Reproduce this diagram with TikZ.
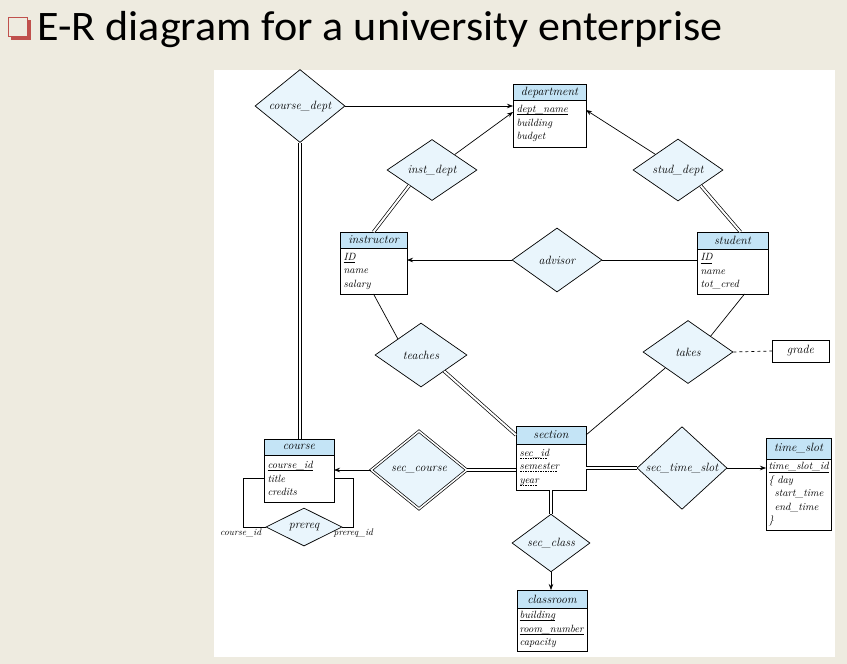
\documentclass[tikz,border=0pt]{standalone}
\usepackage{fontspec}
\usetikzlibrary{shapes.geometric,arrows.meta}
\newfontfamily\titlefont[FakeStretch=1.05]{Carlito}
\definecolor{slidebg}{HTML}{EEEBE0}
\definecolor{hdrblue}{HTML}{C4E4F6}
\definecolor{relblue}{HTML}{E9F5FC}
\definecolor{bulletred}{HTML}{C0504D}
% primary key and partial key underlines
\newcommand\keyattr[1]{\leavevmode\setbox0\hbox{#1}\rlap{\raisebox{-2.2pt}[0pt][0pt]{\vrule width \wd0 height 0.5pt depth 0pt}}#1}
\newcommand\partkey[1]{\leavevmode\setbox0\hbox{#1}\rlap{\raisebox{-2.4pt}[0pt][0pt]{\hbox to \wd0{\leaders\hbox to 2.5pt{\hss\vrule height 0.5pt depth 0pt width 1.5pt\hss}\hfill}}}#1}
\tikzset{
  ent/.style={draw, fill=hdrblue, anchor=north west, inner sep=0pt, outer sep=0pt, minimum height=17pt, font=\fontsize{12}{14}\selectfont\itshape},
  attrs/.style={draw, fill=white, anchor=north west, outer sep=0pt, inner xsep=3.5pt, inner ysep=1.5pt, align=left, font=\fontsize{10.5}{13.5}\selectfont\itshape},
  rel/.style={diamond, draw, fill=relblue, inner sep=0pt, minimum width=90pt, minimum height=63pt, font=\fontsize{12}{14}\selectfont\itshape},
  total/.style={double, double distance=2pt},
  role/.style={font=\fontsize{9.5}{11}\selectfont\itshape, inner sep=2pt},
  >={Stealth[length=6pt,width=4.5pt]}
}
\begin{document}
\begin{tikzpicture}[x=1pt, y=-1pt, line width=0.7pt]
  \useasboundingbox (0,0) rectangle (847,664);
  \fill[slidebg] (0,0) rectangle (847,664);
  \fill[white] (214,70) rectangle (835,657);
  % slide title
  \fill[bulletred] (10.5,19.5) rectangle (30.5,39.5);
  \filldraw[fill=slidebg, draw=bulletred, line width=1pt] (8.5,17.5) rectangle (27.5,36.5);
  \node[anchor=base west, inner sep=0pt, font=\titlefont\fontsize{42}{50}\selectfont] (title) at (37,40) {E-R diagram for a university enterprise};

  % entity sets
  \node[ent, minimum width=73pt, minimum height=16pt] (department) at (513,84) {department};
  \node[attrs, text width=66pt, minimum height=47pt] (department-attrs) at (department.south west) {\keyattr{dept\_name}\\ building\\ budget};
  \node[ent, minimum width=67pt, minimum height=16pt] (instructor) at (340,232) {instructor};
  \node[attrs, text width=60pt, minimum height=46pt] (instructor-attrs) at (instructor.south west) {\keyattr{ID}\\ name\\ salary};
  \node[ent, minimum width=71pt] (student) at (697,232) {student};
  \node[attrs, text width=64pt, minimum height=45pt] (student-attrs) at (student.south west) {\keyattr{ID}\\ name\\ tot\_cred};
  \node[ent, minimum width=70pt, minimum height=16pt] (course) at (264,439) {course};
  \node[attrs, text width=63pt, minimum height=47pt] (course-attrs) at (course.south west) {\keyattr{course\_id}\\ title\\ credits};
  \node[ent, minimum width=70pt, minimum height=18pt] (section) at (516,426) {section};
  \node[attrs, text width=63pt, minimum height=46pt] (section-attrs) at (section.south west) {\partkey{sec\_id}\\ \partkey{semester}\\ \partkey{year}};
  \node[ent, minimum width=65pt, minimum height=21pt] (time_slot) at (766,438) {time\_slot};
  \node[attrs, inner xsep=2.5pt, text width=60pt, minimum height=71pt] (time_slot-attrs) at (time_slot.south west) {\keyattr{time\_slot\_id}\\ \{ day\\ \hspace*{6pt}start\_time\\ \hspace*{6pt}end\_time\\ \}};
  \node[ent, minimum width=70pt, minimum height=18pt] (classroom) at (517,590) {classroom};
  \node[attrs, inner xsep=2.5pt, text width=65pt, minimum height=43pt] (classroom-attrs) at (classroom.south west) {\keyattr{building}\\ \keyattr{room\_number}\\ capacity};
  \node[attrs, align=center, minimum width=57pt, minimum height=22pt, font=\fontsize{12}{14}\selectfont\itshape] (grade) at (772,340) {grade};

  % relationship sets
  \node[rel] (course_dept) at (300,106) {course\_dept};
  \node[rel, minimum height=61pt] (inst_dept) at (432,170) {inst\_dept};
  \node[rel, minimum height=62pt] (stud_dept) at (678,170) {stud\_dept};
  \node[rel, minimum height=64pt] (advisor) at (557,260) {advisor};
  \node[rel, minimum width=92pt, minimum height=64pt] (teaches) at (421,355) {teaches};
  \node[rel] (takes) at (688,352) {takes};
  \node[rel, double, double distance=1.5pt, minimum width=96pt, minimum height=78pt] (sec_course) at (419,470) {sec\_course};
  \node[rel, minimum height=64pt] (sec_time_slot) at (682,468) {sec\_time\_slot};
  \node[rel, minimum width=78pt, minimum height=50pt] (sec_class) at (551,543) {sec\_class};
  \node[rel, minimum width=76pt, minimum height=38pt] (prereq) at (304,527) {prereq};

  % connectors
  \draw[->] (course_dept.east) -- (course_dept.east -| department-attrs.west);
  \draw[total] (course_dept.south) -- (course_dept.south |- course.north);
  \draw[->] (inst_dept.north east) -- ([yshift=-12pt]department-attrs.north west);
  \draw[total] (inst_dept.south west) -- (instructor.north);
  \draw[->] (stud_dept.north west) -- ([yshift=-10pt]department-attrs.north east);
  \draw[total] (stud_dept.south east) -- ([xshift=8pt]student.north);
  \draw[->] (advisor.west) -- (advisor.west -| instructor-attrs.east);
  \draw (advisor.east) -- (advisor.east -| student-attrs.west);
  \draw (instructor-attrs.south) -- (teaches.north west);
  \draw[total] (teaches.south east) -- (section.west);
  \draw ([xshift=12pt]student-attrs.south) -- (takes.north east);
  \draw (takes.south west) -- (section.east);
  \draw[dashed] (takes.east) -- (grade.west);
  \draw[->] (sec_course.west) -- (sec_course.west -| course-attrs.east);
  \draw[total] (sec_course.east) -- (sec_course.east -| section-attrs.west);
  \draw[total, line width=1pt] (sec_time_slot.west -| section-attrs.east) -- (sec_time_slot.west);
  \draw[->] (sec_time_slot.east) -- (sec_time_slot.east -| time_slot-attrs.west);
  \draw[total] (section-attrs.south) -- (sec_class.north);
  \draw[->] (sec_class.south) -- (sec_class.south |- classroom.north);
  \draw (prereq.west) -- ++(-22,0) node[role, below, xshift=-3pt] {course\_id} |- (course-attrs.west);
  \draw (prereq.east) -- ++(11,0) node[role, below] {prereq\_id} |- (course-attrs.east);
\end{tikzpicture}
\end{document}
